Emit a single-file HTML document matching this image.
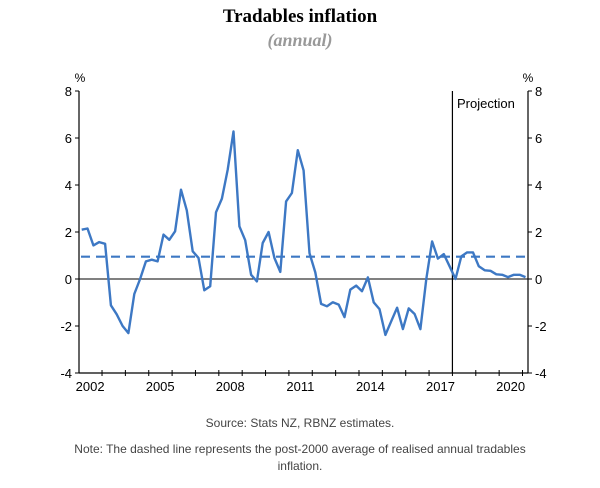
<!DOCTYPE html>
<html><head><meta charset="utf-8"><style>
body{margin:0;background:#fff;width:600px;height:483px;overflow:hidden}
svg text{font-family:"Liberation Sans",sans-serif}
</style></head><body>
<svg id="chart" width="600" height="483" xmlns="http://www.w3.org/2000/svg">
<text x="300" y="22" text-anchor="middle" style="font-family:'Liberation Serif',serif;font-weight:bold;font-size:19px">Tradables inflation</text>
<text x="300" y="46" text-anchor="middle" fill="#999" style="font-family:'Liberation Serif',serif;font-style:italic;font-weight:bold;font-size:18px">(annual)</text>
<text x="80" y="82" text-anchor="middle" font-size="12">%</text>
<text x="528" y="82" text-anchor="middle" font-size="12">%</text>
<g id="axes"></g>
<g id="marks"></g>
<text x="457" y="108" font-size="13">Projection</text>
<text x="300" y="427" text-anchor="middle" font-size="12" fill="#444">Source: Stats NZ, RBNZ estimates.</text>
<text x="300" y="453" text-anchor="middle" font-size="12" fill="#444">Note: The dashed line represents the post-2000 average of realised annual tradables</text>
<text x="300" y="470" text-anchor="middle" font-size="12" fill="#444">inflation.</text>
</svg>
<script>
const startYear = 2002;
const values = [2.1,2.15,1.43,1.57,1.5,-1.12,-1.5,-2.0,-2.3,-0.64,0,0.75,0.82,0.75,1.89,1.67,2.03,3.8,2.92,1.18,0.9,-0.48,-0.31,2.84,3.42,4.65,6.28,2.24,1.65,0.18,-0.1,1.53,2.0,0.9,0.3,3.3,3.66,5.48,4.62,1.1,0.28,-1.06,-1.16,-0.99,-1.09,-1.62,-0.45,-0.28,-0.52,0.07,-0.99,-1.28,-2.38,-1.8,-1.22,-2.13,-1.25,-1.49,-2.13,0,1.6,0.87,1.06,0.54,0,0.96,1.13,1.13,0.54,0.37,0.35,0.2,0.18,0.08,0.18,0.18,0.08];
const averageValue = [0.95];
const yTicks = [-4,-2,0,2,4,6,8];
const xTickLabels = [2002,2005,2008,2011,2014,2017,2020];
const projectionStart = [2017.87];

const NS="http://www.w3.org/2000/svg";
const L=79,R=528,T=91,B=373;
const x=t=>81.7+(t-startYear)*23.36;
const y=v=>279-v*23.5;
const ax=document.getElementById('axes'), mk=document.getElementById('marks');
function el(tag,attrs,parent){const e=document.createElementNS(NS,tag);for(const k in attrs)e.setAttribute(k,attrs[k]);parent.appendChild(e);return e;}

let e=el('line',{x1:L,y1:y(0),x2:R,y2:y(0),stroke:'#000','stroke-width':1},ax);


e=el('line',{x1:L,y1:T,x2:L,y2:B,stroke:'#000','stroke-width':1.2},ax);


e=el('line',{x1:R,y1:T,x2:R,y2:B,stroke:'#000','stroke-width':1.2},ax);


e=el('line',{x1:L,y1:B,x2:R,y2:B,stroke:'#000','stroke-width':1.2},ax);



yTicks.forEach(v=>{
  el('line',{x1:L-4,y1:y(v),x2:L,y2:y(v),stroke:'#000'},ax);
  el('line',{x1:R,y1:y(v),x2:R+4,y2:y(v),stroke:'#000'},ax);
  let t=el('text',{x:L-7,y:y(v)+5,'text-anchor':'end','font-size':13},ax);t.textContent=v;
  
  
  t=el('text',{x:R+7,y:y(v)+5,'font-size':13},ax);t.textContent=v;
  
  
});
for(let yr=startYear;yr<=2020;yr++){
  const tx=x(yr+0.87);
  if(tx<R-1) el('line',{x1:tx,y1:B-3,x2:tx,y2:B+3,stroke:'#000'},ax);
}
xTickLabels.forEach(yr=>{
  const t=el('text',{x:x(yr+0.36),y:B+18,'text-anchor':'middle','font-size':13},ax);t.textContent=yr;
  
  
});

e=el('line',{x1:x(projectionStart[0]),y1:T,x2:x(projectionStart[0]),y2:B,stroke:'#000','stroke-width':1.2},mk);


e=el('line',{x1:L+2,y1:y(averageValue[0]),x2:R-2,y2:y(averageValue[0]),stroke:'#3d78c4','stroke-width':2.2,'stroke-dasharray':'9,6'},mk);


const pts=values.map((v,i)=>x(startYear+i/4).toFixed(1)+','+y(v).toFixed(1)).join(' ');
e=el('polyline',{points:pts,fill:'none',stroke:'#3d78c4','stroke-width':2.4,'stroke-linejoin':'round'},mk);


</script>
</body></html>
